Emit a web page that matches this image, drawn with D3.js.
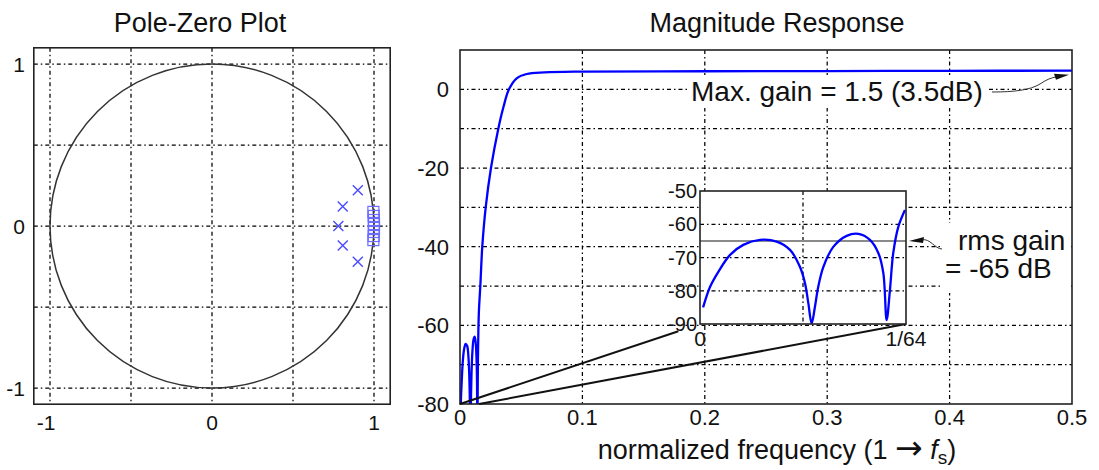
<!DOCTYPE html>
<html>
<head>
<meta charset="utf-8">
<script src="https://cdn.jsdelivr.net/npm/d3@7"></script>
<style>
body { margin: 0; background: #fff; }
text { font-family: "Liberation Sans", Arial, Helvetica, sans-serif; fill: #111; }
</style>
</head>
<body>
<svg id="fig" width="1099" height="470"></svg>
<script>

// ---- pole-zero data ----
var poleRe = [0.78, 0.807, 0.807, 0.90, 0.90];
var poleIm = [0, 0.12, -0.12, 0.22, -0.22];
var zeroIm = [0.012, -0.012, 0.037, -0.037, 0.062, -0.062, 0.087, -0.087];
var pzTicks = [-1, 0, 1];
var pzGrid = [-1, -0.5, 0, 0.5, 1];

// ---- magnitude response data ----
// stopband, u = fraction of 1/64
var stopU  = [0.015, 0.049, 0.089, 0.146, 0.21, 0.291, 0.372, 0.437, 0.485, 0.51, 0.526, 0.542, 0.558,
              0.574, 0.599, 0.647, 0.712, 0.769, 0.825, 0.866, 0.89, 0.906, 0.922, 0.938, 0.963, 0.995];
var stopDb = [-85, -78.8, -74.3, -69.2, -66.2, -64.7, -65.2, -67.7, -72.8, -77.8, -83.8, -89.8, -84.8,
              -78.8, -72.8, -66.8, -63.5, -62.9, -64.7, -68.7, -74.7, -88.8, -79.8, -68.7, -60.7, -55.7];
// transition + passband
var passF  = [0.0166, 0.0182, 0.021, 0.0253, 0.0313, 0.0355, 0.040, 0.0463, 0.0545, 0.069, 0.1, 0.2, 0.3, 0.4, 0.5];
var passDb = [-50, -40, -30, -20, -10, -4.5, 0, 2.8, 3.9, 4.3, 4.5, 4.6, 4.65, 4.7, 4.75];

var magXTicks = [0, 0.1, 0.2, 0.3, 0.4, 0.5];
var magYTicks = [0, -20, -40, -60, -80];
var magYGrid = [0, -10, -20, -30, -40, -50, -60, -70];
var insetYTicks = [-50, -60, -70, -80, -90];
var insetYGrid = [-60, -70, -80];
var insetXTicks = [0, 1 / 64];
var insetXLabels = ["0", "1/64"];
var rmsGain = -65;

var svg = d3.select("#fig");
var gridDash = "4,3,1.5,3";
var blue = "#0000ff";

// ================= Pole-Zero Plot =================
var px = d3.scaleLinear().domain([-1.1, 1.1]).range([33.8, 390.2]);
var py = d3.scaleLinear().domain([-1.1, 1.1]).range([404.2, 47.8]);

var pz = svg.append("g");

pz.selectAll(".gx").data(pzGrid).enter().append("line")
	.attr("x1", d => px(d)).attr("x2", d => px(d))
	.attr("y1", py(1.1)).attr("y2", py(-1.1))
	.attr("stroke", "#000").attr("stroke-width", 1.25).attr("stroke-dasharray", gridDash);
pz.selectAll(".gy").data(pzGrid).enter().append("line")
	.attr("y1", d => py(d)).attr("y2", d => py(d))
	.attr("x1", px(-1.1)).attr("x2", px(1.1))
	.attr("stroke", "#000").attr("stroke-width", 1.25).attr("stroke-dasharray", gridDash);

pz.append("circle")
	.attr("cx", px(0)).attr("cy", py(0)).attr("r", px(1) - px(0))
	.attr("fill", "none").attr("stroke", "#333").attr("stroke-width", 1.5);

// zeros (squares)
pz.selectAll(".zero").data(zeroIm).enter().append("rect")
	.attr("x", d => px(Math.sqrt(1 - d * d)) - 5.5)
	.attr("y", d => py(d) - 5.5)
	.attr("width", 11).attr("height", 11)
	.attr("fill", "none").attr("stroke", "#6b6bff").attr("stroke-width", 1.2);

// poles (crosses)
var poleG = pz.selectAll(".pole").data(d3.range(poleRe.length)).enter().append("g")
	.attr("transform", i => "translate(" + px(poleRe[i]) + "," + py(poleIm[i]) + ")");
poleG.append("path")
	.attr("d", "M-5,-5L5,5M-5,5L5,-5")
	.attr("stroke", "#4a4aff").attr("stroke-width", 1.4).attr("fill", "none");

pz.append("rect")
	.attr("x", px(-1.1)).attr("y", py(1.1))
	.attr("width", px(1.1) - px(-1.1)).attr("height", py(-1.1) - py(1.1))
	.attr("fill", "none").attr("stroke", "#222").attr("stroke-width", 1.6);

pz.selectAll(".ytl").data(pzTicks).enter().append("text")
	.attr("x", 25).attr("y", d => py(d)).attr("dy", "0.36em")
	.attr("text-anchor", "end").style("font-size", "21px")
	.text(d => d === -1 ? "-1" : d);
pz.selectAll(".xtl").data(pzTicks).enter().append("text")
	.attr("x", d => px(d) + (d < 0 ? -4 : 0)).attr("y", 430)
	.attr("text-anchor", "middle").style("font-size", "21px")
	.text(d => d === -1 ? "-1" : d);

pz.append("text").attr("x", 200).attr("y", 32).attr("text-anchor", "middle")
	.style("font-size", "27px").text("Pole-Zero Plot");

// ================= Magnitude Response =================
var x = d3.scaleLinear().domain([0, 0.5]).range([460, 1072]);
var y = d3.scaleLinear().domain([-80, 10]).range([404, 50]);

var mag = svg.append("g");

svg.append("clipPath").attr("id", "magClip").append("rect")
	.attr("x", x(0)).attr("y", y(10)).attr("width", x(0.5) - x(0)).attr("height", y(-80) - y(10));

mag.selectAll(".gx").data(magXTicks.slice(1, -1)).enter().append("line")
	.attr("x1", d => x(d)).attr("x2", d => x(d))
	.attr("y1", y(10)).attr("y2", y(-80))
	.attr("stroke", "#000").attr("stroke-width", 1.25).attr("stroke-dasharray", gridDash);
mag.selectAll(".gy").data(magYGrid).enter().append("line")
	.attr("y1", d => y(d)).attr("y2", d => y(d))
	.attr("x1", x(0)).attr("x2", x(0.5))
	.attr("stroke", "#000").attr("stroke-width", 1.25).attr("stroke-dasharray", gridDash);

var magData = stopU.map((u, i) => [u / 64, stopDb[i]])
	.concat(passF.map((f, i) => [f, passDb[i]]));

var magLine = d3.line().x(d => x(d[0])).y(d => y(d[1])).curve(d3.curveCatmullRom.alpha(0.5));
mag.append("path").datum(magData)
	.attr("d", magLine).attr("clip-path", "url(#magClip)")
	.attr("fill", "none").attr("stroke", blue).attr("stroke-width", 2.3);

mag.append("rect")
	.attr("x", x(0)).attr("y", y(10))
	.attr("width", x(0.5) - x(0)).attr("height", y(-80) - y(10))
	.attr("fill", "none").attr("stroke", "#222").attr("stroke-width", 1.6);

mag.selectAll(".ytl").data(magYTicks).enter().append("text")
	.attr("x", 449).attr("y", d => y(d)).attr("dy", "0.36em")
	.attr("text-anchor", "end").style("font-size", "22px")
	.text(d => d);
mag.selectAll(".xtl").data(magXTicks).enter().append("text")
	.attr("x", d => x(d)).attr("y", 425)
	.attr("text-anchor", "middle").style("font-size", "22px")
	.text(d => d);

mag.append("text").attr("x", 777).attr("y", 32).attr("text-anchor", "middle")
	.style("font-size", "27px").text("Magnitude Response");

var xl = mag.append("text").attr("x", 777).attr("y", 459).attr("text-anchor", "middle")
	.style("font-size", "27px");
xl.append("tspan").text("normalized frequency (1 ");
xl.append("tspan").style("font-family", "'DejaVu Sans'").style("font-size", "33px").text("\u2192");
xl.append("tspan").text(" ");
xl.append("tspan").style("font-style", "italic").text("f");
xl.append("tspan").attr("dy", 5).style("font-size", "19px").text("s");
xl.append("tspan").attr("dy", -5).text(")");

// ---- inset ----
var ix = d3.scaleLinear().domain([0, 1 / 64]).range([700, 906]);
var iy = d3.scaleLinear().domain([-90, -50]).range([324, 191]);

// zoom lines from main plot to inset
var z0 = [x(0), y(-80)], z1 = [ix(0), iy(-90)];
mag.append("line")
	.attr("x1", z0[0]).attr("y1", z0[1])
	.attr("x2", z0[0] + (z1[0] - z0[0]) * 0.91).attr("y2", z0[1] + (z1[1] - z0[1]) * 0.91)
	.attr("stroke", "#111").attr("stroke-width", 2);
mag.append("line")
	.attr("x1", x(1 / 64)).attr("y1", y(-80))
	.attr("x2", ix(1 / 64)).attr("y2", iy(-90))
	.attr("stroke", "#111").attr("stroke-width", 2);

var inset = svg.append("g");
svg.append("clipPath").attr("id", "insetClip").append("rect")
	.attr("x", ix(0)).attr("y", iy(-50)).attr("width", ix(1 / 64) - ix(0)).attr("height", iy(-90) - iy(-50));

inset.append("rect")
	.attr("x", ix(0)).attr("y", iy(-50))
	.attr("width", ix(1 / 64) - ix(0)).attr("height", iy(-90) - iy(-50))
	.attr("fill", "#fff");

inset.selectAll(".gy").data(insetYGrid).enter().append("line")
	.attr("y1", d => iy(d)).attr("y2", d => iy(d))
	.attr("x1", ix(0)).attr("x2", ix(1 / 64))
	.attr("stroke", "#000").attr("stroke-width", 1.25).attr("stroke-dasharray", gridDash);
inset.append("line")
	.attr("x1", ix(1 / 128)).attr("x2", ix(1 / 128))
	.attr("y1", iy(-50)).attr("y2", iy(-90))
	.attr("stroke", "#000").attr("stroke-width", 1.25).attr("stroke-dasharray", gridDash);

inset.append("line")
	.attr("x1", ix(0)).attr("x2", ix(1 / 64))
	.attr("y1", iy(rmsGain)).attr("y2", iy(rmsGain))
	.attr("stroke", "#8a8a8a").attr("stroke-width", 2);

var insetLine = d3.line().x(d => ix(d[0])).y(d => iy(d[1])).curve(d3.curveCatmullRom.alpha(0.5));
inset.append("path").datum(stopU.map((u, i) => [u / 64, stopDb[i]]))
	.attr("d", insetLine).attr("clip-path", "url(#insetClip)")
	.attr("fill", "none").attr("stroke", blue).attr("stroke-width", 2.3);

inset.append("rect")
	.attr("x", ix(0)).attr("y", iy(-50))
	.attr("width", ix(1 / 64) - ix(0)).attr("height", iy(-90) - iy(-50))
	.attr("fill", "none").attr("stroke", "#222").attr("stroke-width", 1.6);

inset.selectAll(".ytl").data(insetYTicks).enter().append("text")
	.attr("x", 697).attr("y", d => iy(d)).attr("dy", "0.36em")
	.attr("text-anchor", "end").style("font-size", "20px")
	.text(d => d);
inset.selectAll(".xtl").data(insetXTicks).enter().append("text")
	.attr("x", d => ix(d)).attr("y", 346)
	.attr("text-anchor", "middle").style("font-size", "21px")
	.text((d, i) => insetXLabels[i]);

// ---- annotations (white boxes hide the grid behind the text) ----
var ann = svg.append("g");
ann.append("rect").attr("x", 688).attr("y", 75).attr("width", 300).attr("height", 33).attr("fill", "#fff");
ann.append("rect").attr("x", 940).attr("y", 223).attr("width", 131).attr("height", 70).attr("fill", "#fff");

ann.append("text").attr("x", 691).attr("y", 101).style("font-size", "28px")
	.text("Max. gain = 1.5 (3.5dB)");
var tipA = [x(0.5) - 3, y(passDb[passDb.length - 1]) + 4];
ann.append("path")
	.attr("d", "M992,92 C1015,92 1030,90 1040,84 C1046,80 1050,78 " + (tipA[0] - 12) + "," + (tipA[1] + 2))
	.attr("fill", "none").attr("stroke", "#333").attr("stroke-width", 1);
ann.append("path")
	.attr("d", "M" + tipA[0] + "," + tipA[1] + "L" + (tipA[0] - 15) + "," + (tipA[1] - 1) + "L" + (tipA[0] - 13) + "," + (tipA[1] + 5) + "Z")
	.attr("fill", "#111");

var tipB = [ix(1 / 64) + 3, iy(rmsGain)];
ann.append("path")
	.attr("d", "M" + (tipB[0] + 13) + "," + (tipB[1] - 1) + " C930,238 935,249 942,249")
	.attr("fill", "none").attr("stroke", "#333").attr("stroke-width", 1);
ann.append("path")
	.attr("d", "M" + tipB[0] + "," + tipB[1] + "L" + (tipB[0] + 15) + "," + (tipB[1] - 4) + "L" + (tipB[0] + 14) + "," + (tipB[1] + 2) + "Z")
	.attr("fill", "#111");
ann.append("text").attr("x", 958).attr("y", 250).style("font-size", "28px").text("rms gain");
ann.append("text").attr("x", 945).attr("y", 278).style("font-size", "28px").text("= -65 dB");

</script>
</body>
</html>
